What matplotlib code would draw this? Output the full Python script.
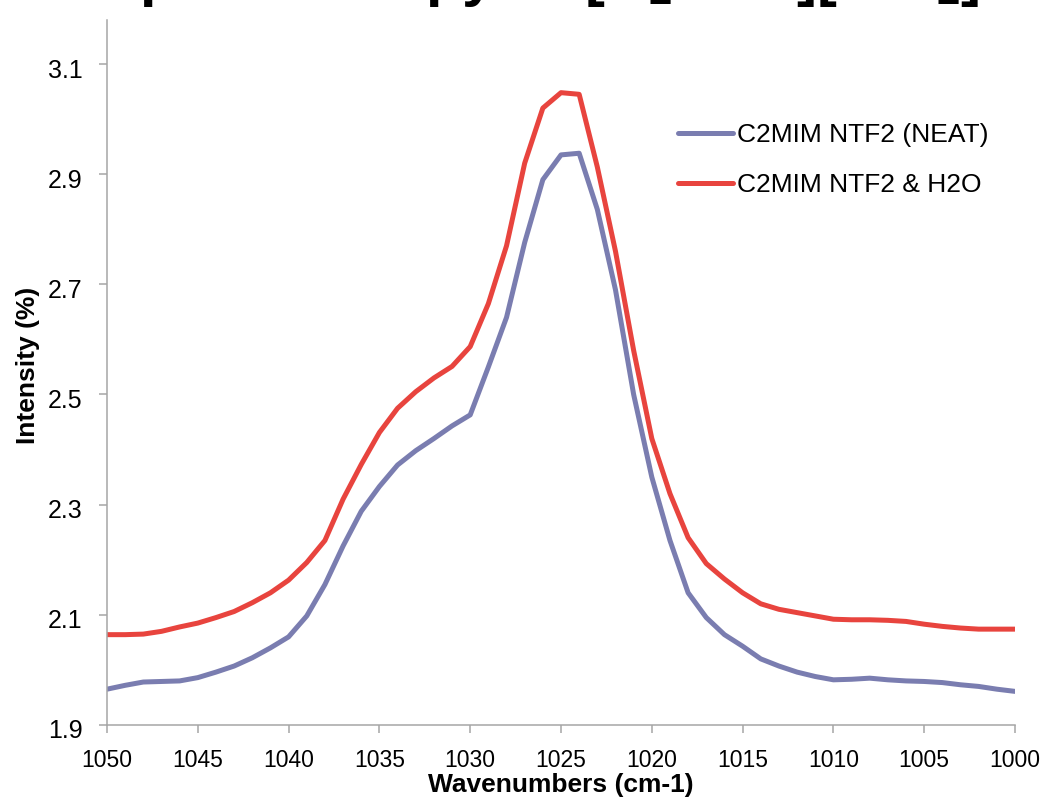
import matplotlib.pyplot as plt
import matplotlib.transforms as mtransforms

# wavenumbers (cm-1), 1050 -> 1000 in 1 cm-1 steps
wavenumbers = list(range(1050, 999, -1))

neat = [
    1.965, 1.972, 1.978, 1.979, 1.980, 1.986, 1.996, 2.007, 2.022, 2.040,
    2.060, 2.098, 2.155, 2.225, 2.288, 2.333, 2.372, 2.398, 2.420, 2.443,
    2.463, 2.550, 2.640, 2.776, 2.890, 2.935, 2.938, 2.836, 2.690, 2.500,
    2.350, 2.235, 2.140, 2.095, 2.064, 2.043, 2.020, 2.007, 1.996, 1.988,
    1.982, 1.983, 1.985, 1.982, 1.980, 1.979, 1.977, 1.973, 1.970, 1.965,
    1.961,
]

with_water = [
    2.064, 2.064, 2.065, 2.070, 2.078, 2.085, 2.095, 2.106, 2.122, 2.140,
    2.163, 2.195, 2.235, 2.310, 2.373, 2.431, 2.475, 2.505, 2.530, 2.551,
    2.587, 2.665, 2.770, 2.920, 3.020, 3.048, 3.045, 2.913, 2.760, 2.580,
    2.420, 2.320, 2.240, 2.193, 2.165, 2.140, 2.120, 2.110, 2.104, 2.098,
    2.092, 2.091, 2.091, 2.090, 2.088, 2.083, 2.079, 2.076, 2.074, 2.074,
    2.074,
]

labels = ["C2MIM NTF2 (NEAT)", "C2MIM NTF2 & H2O"]
colors = ["#7A7DB0", "#E8443E"]
yticks = [1.9, 2.1, 2.3, 2.5, 2.7, 2.9, 3.1]
xticks = list(range(1050, 999, -5))

plt.rcParams['font.family'] = ['Liberation Sans', 'DejaVu Sans']
plt.rcParams['mathtext.fontset'] = 'custom'
plt.rcParams['mathtext.rm'] = 'Liberation Sans:bold'
plt.rcParams['mathtext.bf'] = 'Liberation Sans:bold'

fig = plt.figure(figsize=(10.45, 7.98), dpi=100)
ax = fig.add_axes([0.1024, 0.0915, 0.8689, 0.8835])

for series, lab, col in zip([neat, with_water], labels, colors):
    ax.plot(wavenumbers, series, color=col, lw=3.6, label=lab,
            solid_capstyle='round', solid_joinstyle='round')

ax.set_xlim(1050, 1000)
ax.set_ylim(1.9, 3.18)
ax.set_xticks(xticks)
ax.set_yticks(yticks)
ax.set_yticklabels([f"{v:.1f}" for v in yticks])

for side in ['top', 'right']:
    ax.spines[side].set_visible(False)
for side in ['left', 'bottom']:
    ax.spines[side].set_color('#A6A6A6')
    ax.spines[side].set_linewidth(1.1)

ax.tick_params(axis='both', direction='out', color='#A6A6A6', width=1.1)
ax.tick_params(axis='x', length=6, pad=11, labelsize=16.5)
ax.tick_params(axis='y', length=5.5, pad=12, labelsize=18)

# y tick labels sit slightly below their ticks in the original
offset = mtransforms.ScaledTranslation(0, -4 / 100, fig.dpi_scale_trans)
for lbl in ax.get_yticklabels():
    lbl.set_transform(lbl.get_transform() + offset)

ax.set_xlabel("Wavenumbers (cm-1)", fontsize=19, fontweight='bold')
ax.xaxis.set_label_coords(0.5, -0.068)
ax.set_ylabel("Intensity (%)", fontsize=19, fontweight='bold')
ax.yaxis.set_label_coords(-0.074, 0.51)

ax.legend(loc='center left', bbox_to_anchor=(678 / 1045, 1 - 160 / 798),
          bbox_transform=fig.transFigure, frameon=False, fontsize=19,
          handlelength=2.1, handletextpad=0.15, labelspacing=1.0,
          borderpad=0, borderaxespad=0)

# title sits mostly above the visible area (cropped in the original)
fig.text(100 / 1045, 1.0 + 5 / 798, r"Spectroscopy of [C$_2$mim][NTf$_2$]",
         fontsize=43, fontweight='bold', ha='left', va='baseline')

fig.savefig("out.png", dpi=100)
